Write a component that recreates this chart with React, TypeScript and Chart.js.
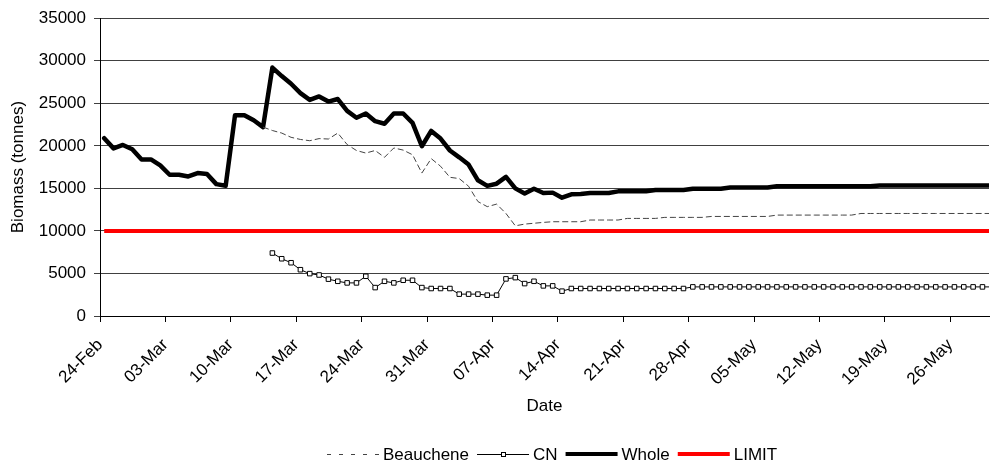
import { useEffect, useRef } from 'react';
import { Chart, registerables } from 'chart.js';

Chart.register(...registerables);

// Tick labels, one every 7 days starting 24-Feb (day 0)
const TICK_LABELS = [
  '24-Feb', '03-Mar', '10-Mar', '17-Mar', '24-Mar', '31-Mar', '07-Apr',
  '14-Apr', '21-Apr', '28-Apr', '05-May', '12-May', '19-May', '26-May',
];
const TICK_STEP_DAYS = 7;

// Daily values, day 0 = 24-Feb
const WHOLE = [
  20900, 19700, 20100, 19600, 18400, 18400, 17700, 16600, 16600, 16400,
  16800, 16700, 15500, 15300, 23600, 23600, 23000, 22200, 29200, 28200,
  27300, 26200, 25400, 25800, 25200, 25500, 24100, 23300, 23800, 22900,
  22600, 23800, 23800, 22700, 19950, 21750, 20850, 19450, 18650, 17800,
  15950, 15300, 15550, 16350, 15000, 14400, 14950, 14450, 14500, 13900,
  14300, 14350, 14450, 14450, 14450, 14650, 14650, 14650, 14650, 14800,
  14800, 14800, 14800, 14950, 14950, 14950, 14950, 15100, 15100, 15100,
  15100, 15100, 15250, 15250, 15250, 15250, 15250, 15250, 15250, 15250,
  15250, 15250, 15250, 15350, 15350, 15350, 15350, 15350, 15350, 15350,
  15350, 15350, 15350, 15350, 15350, 15350,
];

const BEAUCHENE = [
  null, null, null, null, null, null, null, null, null, null,
  null, null, null, null, null, null, null, 22200, 21800, 21500,
  21000, 20750, 20600, 20850, 20800, 21500, 20150, 19450, 19150, 19450,
  18650, 19750, 19500, 18950, 16800, 18500, 17600, 16300, 16150, 15250,
  13450, 12850, 13150, 12050, 10600, 10800, 10900, 11000, 11080, 11080,
  11080, 11080, 11280, 11280, 11280, 11280, 11470, 11470, 11470, 11470,
  11590, 11590, 11590, 11590, 11590, 11700, 11700, 11700, 11700, 11700,
  11700, 11700, 11860, 11860, 11860, 11860, 11860, 11860, 11860, 11860,
  11860, 12050, 12050, 12050, 12050, 12050, 12050, 12050, 12050, 12050,
  12050, 12050, 12050, 12050, 12050, 12050,
];

const CN = [
  null, null, null, null, null, null, null, null, null, null,
  null, null, null, null, null, null, null, null, 7400, 6730,
  6260, 5440, 4980, 4820, 4330, 4080, 3890, 3890, 4670, 3340,
  4080, 3890, 4200, 4200, 3340, 3230, 3230, 3230, 2570, 2570,
  2570, 2450, 2450, 4360, 4510, 3810, 4080, 3540, 3540, 2920,
  3230, 3230, 3230, 3230, 3230, 3230, 3230, 3230, 3230, 3230,
  3230, 3230, 3230, 3420, 3420, 3420, 3420, 3420, 3420, 3420,
  3420, 3420, 3420, 3420, 3420, 3420, 3420, 3420, 3420, 3420,
  3420, 3420, 3420, 3420, 3420, 3420, 3420, 3420, 3420, 3420,
  3420, 3420, 3420, 3420, 3420, 3420,
];

const LIMIT_VALUE = 10000;
const LIMIT = WHOLE.map(() => LIMIT_VALUE);

// Points sit slightly right of the date tick (category centring)
const DAY_OFFSET = 0.45;
const X_MAX = 95.15;

const FONT = '"Liberation Sans", Arial, Helvetica, sans-serif';

const toPoints = (arr: (number | null)[]) =>
  arr.map((v, i) => ({ x: i + DAY_OFFSET, y: v }));

const legendPlugin = {
  id: 'excelLegend',
  afterDraw(chart: any) {
    const { ctx, chartArea } = chart;
    const sampleLen = 52;
    const gapText = 4;
    const gapItem = 8;
    ctx.save();
    ctx.font = `17px ${FONT}`;
    ctx.textBaseline = 'middle';
    const ds = chart.data.datasets;
    const order = [0, 1, 2, 3];
    const widths = order.map((i) => sampleLen + gapText + ctx.measureText(ds[i].label).width);
    const total = widths.reduce((a: number, b: number) => a + b, 0) + gapItem * (order.length - 1);
    let x = Math.round((chartArea.left + chartArea.right) / 2 + 8 - total / 2);
    const y = 454;
    order.forEach((i, k) => {
      const d = ds[i];
      const lw = d.legendLineWidth ?? d.borderWidth;
      const ly = lw % 2 === 1 ? y + 0.5 : y;
      ctx.save();
      ctx.strokeStyle = d.borderColor;
      ctx.lineWidth = lw;
      ctx.setLineDash(d.legendDash ?? []);
      ctx.beginPath();
      ctx.moveTo(x, ly);
      ctx.lineTo(x + sampleLen, ly);
      ctx.stroke();
      if (d.pointRadius && d.pointRadius > 0) {
        ctx.setLineDash([]);
        const s = 4;
        const cx = Math.round(x + sampleLen / 2);
        ctx.fillStyle = '#fff';
        ctx.strokeStyle = '#000';
        ctx.lineWidth = 1;
        ctx.fillRect(cx - s / 2 + 0.5, y - s / 2 + 0.5, s, s);
        ctx.strokeRect(cx - s / 2 + 0.5, y - s / 2 + 0.5, s, s);
      }
      ctx.restore();
      ctx.fillStyle = '#000';
      ctx.textAlign = 'left';
      ctx.fillText(d.label, x + sampleLen + gapText, y + 1);
      x += widths[k] + gapItem;
    });
    ctx.restore();
  },
};

export default function App() {
  const ref = useRef<HTMLCanvasElement>(null);

  useEffect(() => {
    document.body.style.margin = '0';
    if (!ref.current) return;
    Chart.defaults.font.family = FONT;
    Chart.defaults.font.size = 17;
    Chart.defaults.color = '#000';

    const chart = new Chart(ref.current, {
      type: 'line',
      data: {
        datasets: [
          {
            label: 'Beauchene',
            data: toPoints(BEAUCHENE),
            borderColor: '#444',
            borderWidth: 1,
            borderDash: [6, 3],
            legendDash: [4, 8],
            pointRadius: 0,
            tension: 0,
          } as any,
          {
            label: 'CN',
            data: toPoints(CN),
            borderColor: '#000',
            borderWidth: 1,
            pointStyle: 'rect',
            pointRadius: 3.2,
            pointBackgroundColor: '#fff',
            pointBorderColor: '#000',
            pointBorderWidth: 1,
            tension: 0,
            clip: 0,
          } as any,
          {
            label: 'Whole',
            data: toPoints(WHOLE),
            borderColor: '#000',
            borderWidth: 4.5,
            legendLineWidth: 4,
            borderJoinStyle: 'round',
            borderCapStyle: 'round',
            pointRadius: 0,
            tension: 0,
          } as any,
          {
            label: 'LIMIT',
            data: toPoints(LIMIT),
            borderColor: '#ff0000',
            borderWidth: 4,
            pointRadius: 0,
            tension: 0,
          } as any,
        ],
      },
      options: {
        animation: false,
        responsive: false,
        events: [],
        layout: { padding: { top: 16, right: 1, bottom: 49, left: 0 } },
        plugins: {
          legend: { display: false },
          tooltip: { enabled: false },
        },
        scales: {
          x: {
            type: 'linear',
            min: 0,
            max: X_MAX,
            afterBuildTicks: (scale: any) => {
              scale.ticks = TICK_LABELS.map((_, k) => ({ value: k * TICK_STEP_DAYS }));
            },
            afterFit: (scale: any) => {
              scale.height = 101;
            },
            ticks: {
              autoSkip: false,
              minRotation: 45,
              maxRotation: 45,
              padding: 13,
              font: { size: 17 },
              color: '#000',
              callback: (_v: any, index: number) => TICK_LABELS[index],
            },
            grid: {
              display: true,
              drawOnChartArea: false,
              drawTicks: true,
              tickLength: 6,
              color: '#000',
            },
            border: { display: true, color: '#000', width: 1 },
            title: {
              display: true,
              text: 'Date',
              font: { size: 17 },
              color: '#000',
              padding: { top: 0, bottom: 0 },
            },
          },
          y: {
            type: 'linear',
            min: 0,
            max: 35000,
            afterFit: (scale: any) => {
              scale.width = 100;
            },
            ticks: {
              stepSize: 5000,
              padding: 8,
              font: { size: 17 },
              color: '#000',
              callback: (v: any) => String(v),
            },
            grid: {
              color: '#404040',
              lineWidth: 1,
              drawTicks: true,
              tickLength: 6,
            },
            border: { display: true, color: '#000', width: 1 },
            title: {
              display: true,
              text: 'Biomass (tonnes)',
              font: { size: 17 },
              color: '#000',
              padding: { top: 8, bottom: 0 },
            },
          },
        },
      },
      plugins: [legendPlugin],
    });
    return () => chart.destroy();
  }, []);

  return (
    <div style={{ width: 994, height: 466 }}>
      <canvas ref={ref} width={994} height={466} style={{ display: 'block' }} />
    </div>
  );
}
